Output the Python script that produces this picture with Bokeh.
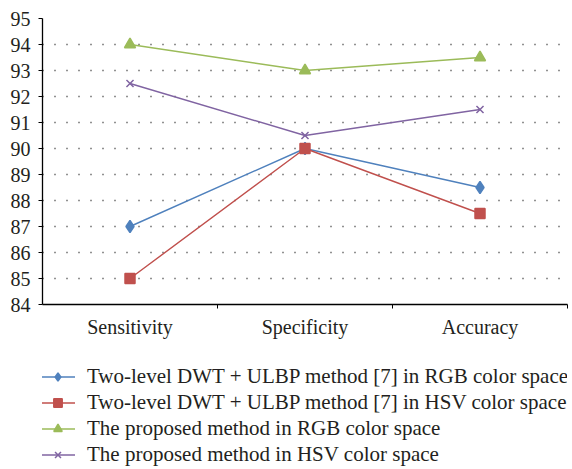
from bokeh.plotting import figure
from bokeh.layouts import column
from bokeh.models import FixedTicker, Legend, LegendItem, Range1d
from bokeh.embed import file_html
from bokeh.resources import INLINE

categories = ["Sensitivity", "Specificity", "Accuracy"]
dwt_rgb = [87, 90, 88.5]
dwt_hsv = [85, 90, 87.5]
prop_rgb = [94, 93, 93.5]
prop_hsv = [92.5, 90.5, 91.5]
y_ticks = list(range(84, 96))
labels = [
    "Two-level DWT + ULBP method [7] in RGB color space",
    "Two-level DWT + ULBP method [7] in HSV color space",
    "The proposed method in RGB color space",
    "The proposed method in HSV color space",
]

FONT = "Liberation Serif"
TXT = "#231f20"
xs = [i + 0.5 for i in range(len(categories))]

p = figure(width=572, height=345, output_backend="svg", toolbar_location=None,
           x_range=Range1d(0, 3), y_range=Range1d(84, 95),
           min_border_left=42, min_border_top=18, min_border_right=5,
           min_border_bottom=41)
p.outline_line_color = None

p.xaxis.ticker = FixedTicker(ticks=xs, minor_ticks=[1, 2, 3])
p.xaxis.major_label_overrides = {x: c for x, c in zip(xs, categories)}
p.xaxis.major_tick_line_color = None
p.xaxis.minor_tick_line_color = "black"
p.xaxis.minor_tick_out = 4
p.xaxis.minor_tick_in = 0
p.xaxis.axis_line_color = "black"
p.xaxis.axis_line_width = 1.3
p.xaxis.major_label_text_font = FONT
p.xaxis.major_label_text_font_size = "20px"
p.xaxis.major_label_text_color = TXT
p.xaxis.major_label_standoff = 5

p.yaxis.ticker = FixedTicker(ticks=y_ticks)
p.yaxis.minor_tick_line_color = None
p.yaxis.major_tick_out = 4
p.yaxis.major_tick_in = 0
p.yaxis.axis_line_color = "black"
p.yaxis.axis_line_width = 1.3
p.yaxis.major_label_text_font = FONT
p.yaxis.major_label_text_font_size = "20px"
p.yaxis.major_label_text_color = TXT
p.yaxis.major_label_standoff = 8

p.xgrid.grid_line_color = None
p.ygrid.ticker = FixedTicker(ticks=y_ticks[1:])
p.ygrid.grid_line_color = "#222222"
p.ygrid.grid_line_dash = "1 11"
p.ygrid.grid_line_width = 1.3

series = [
    (dwt_rgb, "#4F81BD", "diamond", 12),
    (dwt_hsv, "#C0504D", "square", 10),
    (prop_rgb, "#9BBB59", "triangle", 11),
    (prop_hsv, "#8064A2", "x", 10),
]

lf = figure(width=572, height=124, output_backend="svg", toolbar_location=None,
            x_range=Range1d(0, 1), y_range=Range1d(0, 1),
            x_axis_type=None, y_axis_type=None,
            min_border=0)
lf.outline_line_color = None
lf.grid.visible = False

items = []
for (vals, col, mk, sz), lab in zip(series, labels):
    p.line(xs, vals, line_color=col, line_width=1.4)
    p.scatter(xs, vals, marker=mk, size=sz, fill_color=col,
              line_color=col, line_width=1.5)
    l1 = lf.line([-5, -4], [-5, -4], line_color=col, line_width=1.4)
    l2 = lf.scatter([-5], [-5], marker=mk, size=sz, fill_color=col,
                    line_color=col, line_width=1.5)
    items.append(LegendItem(label=lab, renderers=[l1, l2]))

legend = Legend(items=items, location=(-2, 2), orientation="vertical")
legend.label_text_font = FONT
legend.label_text_font_size = "21px"
legend.label_text_color = TXT
legend.glyph_width = 35
legend.glyph_height = 21
legend.label_height = 21
legend.spacing = 1
legend.label_standoff = 12
legend.border_line_color = None
legend.background_fill_alpha = 0
legend.padding = 0
legend.margin = 0
lf.add_layout(legend, "center")

open("out.html", "w").write(file_html(column(p, lf, spacing=0), INLINE))
